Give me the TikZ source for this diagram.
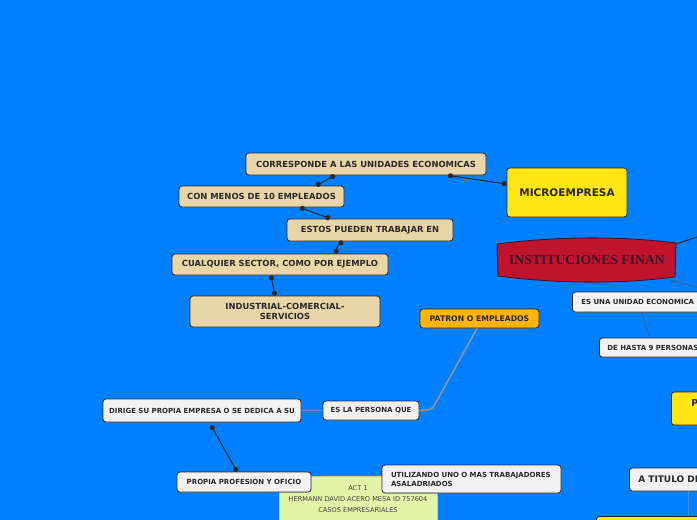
\documentclass[tikz,border=0pt]{standalone}
\usepackage{fontspec}
\setmainfont{DejaVu Sans}
\newfontfamily\titlefont{Liberation Serif}
\usetikzlibrary{arrows.meta,positioning,shadows}
\definecolor{bgblue}{RGB}{0,128,255}
\definecolor{tanfill}{RGB}{232,213,168}
\definecolor{yelfill}{RGB}{255,230,20}
\definecolor{orgfill}{RGB}{255,180,10}
\definecolor{crimson}{RGB}{192,20,46}
\definecolor{palefill}{RGB}{242,242,242}
\definecolor{limefill}{RGB}{224,245,168}
\definecolor{ink}{RGB}{45,40,40}
\definecolor{soft}{RGB}{150,150,150}
\definecolor{faint}{RGB}{80,140,215}
\definecolor{wine}{RGB}{60,20,35}
\definecolor{actink}{RGB}{65,65,65}

\tikzset{
  mapbox/.style={draw=ink, rounded corners=3pt, line width=0.8pt, text=ink, align=center, inner sep=0pt,
    drop shadow={shadow xshift=0.6pt, shadow yshift=-0.8pt, opacity=0.35},
    font=\bfseries\fontsize{7}{9}\selectfont},
  tanbox/.style={mapbox, fill=tanfill, font=\bfseries\fontsize{8.4}{10.5}\selectfont},
  palebox/.style={mapbox, fill=palefill},
  yelbox/.style={mapbox, fill=yelfill},
  link/.style={draw=ink, line width=1pt, {Circle[length=5pt]}-{Circle[length=5pt]}},
}

\begin{document}
\begin{tikzpicture}[x=1pt, y=-1pt]
  \useasboundingbox (0,0) rectangle (697,520);
  \clip (0,0) rectangle (697,520);
  \fill[bgblue] (0,0) rectangle (697,520);

  % microempresa branch
  \node[tanbox, minimum width=240, minimum height=22] (corr) at (366,164) {CORRESPONDE A LAS UNIDADES ECONOMICAS};
  \node[tanbox, minimum width=165, minimum height=21] (menos) at (261.5,196.5) {CON MENOS DE 10 EMPLEADOS};
  \node[tanbox, minimum width=166, minimum height=22] (estos) at (370,230) {ESTOS PUEDEN TRABAJAR EN};
  \node[tanbox, minimum width=216, minimum height=21] (cualq) at (280,264.5) {CUALQUIER SECTOR, COMO POR EJEMPLO};
  \node[tanbox, minimum width=190, minimum height=31] (indus) at (285,311.5) {INDUSTRIAL-COMERCIAL-\\SERVICIOS};
  \node[yelbox, minimum width=120, minimum height=49, font=\bfseries\fontsize{10.5}{12}\selectfont] (micro) at (567,192.5) {MICROEMPRESA};

  % instituciones
  \fill[crimson, draw=wine, line width=0.8pt]
    (497,244) .. controls (560,236) and (620,236) .. (676,243)
    -- (675,277) .. controls (620,284) and (560,284) .. (498,276) -- cycle;
  \node[text=wine, font=\titlefont\bfseries\fontsize{13.7}{15}\selectfont] (instit) at (587,260) {INSTITUCIONES FINAN};
  \coordinate (offa) at (700,236);
  \coordinate (offb) at (700,288);

  \node[palebox, anchor=west, text width=130, inner xsep=9pt, minimum height=20, align=left] (esuna) at (572,302) {ES UNA UNIDAD ECONOMICA};
  \node[palebox, anchor=west, text width=120, inner xsep=8pt, minimum height=19, align=left] (hasta) at (599,347.5) {DE HASTA 9 PERSONAS};

  % patron
  \node[mapbox, fill=orgfill, minimum width=119, minimum height=19, font=\bfseries\fontsize{7.7}{9}\selectfont] (patron) at (479.5,318.5) {PATRON O EMPLEADOS};
  \node[palebox, minimum width=96, minimum height=19] (persona) at (371,410.5) {ES LA PERSONA QUE};
  \node[palebox, minimum width=198, minimum height=23] (dirige) at (202,410.5) {DIRIGE SU PROPIA EMPRESA O SE DEDICA A SU};
  \node[fill=limefill, draw=limefill!85!black, line width=0.6pt, minimum width=158, anchor=north, inner xsep=0pt, inner ysep=9.5pt,
    text=actink, font=\fontsize{6.6}{11}\selectfont, align=center] (act) at (358,476)
    {ACT 1\\HERMANN DAVID ACERO MESA ID 757604\\CASOS EMPRESARIALES\\[14pt]\mbox{}};
  \node[palebox, minimum width=134, minimum height=20] (propia) at (244,482) {PROPIA PROFESION Y OFICIO};
  \node[palebox, minimum width=179, minimum height=28, text width=161, align=left] (utiliz) at (471.5,479) {UTILIZANDO UNO O MAS TRABAJADORES\\ASALADRIADOS};

  % right edge
  \node[yelbox, anchor=west, text width=40, inner xsep=20pt, minimum height=33, align=left, font=\bfseries\fontsize{9.5}{11}\selectfont] (pbox) at (671,408.5) {P\\\mbox{}};
  \node[palebox, anchor=west, text width=90, inner xsep=9pt, minimum height=23, align=left, font=\bfseries\fontsize{9}{10}\selectfont] (titulo) at (629,479.5) {A TITULO DE};
  \node[yelbox, anchor=north west, minimum width=120, minimum height=30] (lowyel) at (596,516) {};

  % connectors
  \draw[link] ([xshift=-31pt]corr.south) -- ([xshift=54.5pt]menos.north);
  \draw[link] ([xshift=82pt]corr.south) -- ([yshift=8.5pt]micro.west);
  \draw[link] ([xshift=38.5pt]menos.south) -- ([xshift=-40pt]estos.north);
  \draw[link] ([xshift=-27pt]estos.south) to[bend right=25] ([xshift=56pt]cualq.north);
  \draw[link] ([xshift=-9pt]cualq.south) -- ([xshift=-10pt]indus.north);
  \draw[draw=ink, line width=1pt] (676,244) -- (offa);
  \draw[draw=ink!80, line width=0.6pt, {Circle[length=2pt]}-] (671,281) -- (offb);
  \draw[draw=ink!80, line width=0.6pt] ([xshift=70pt]esuna.south west) -- ([xshift=51pt]hasta.north west);
  \draw[soft, line width=1.5pt, rounded corners=4pt] ([xshift=-2.5pt]patron.south) -- (432,409.5) -- (persona.east);
  \draw[faint, line width=1pt] (dirige.east) -- (persona.west);
  \draw[link] ([xshift=9pt, yshift=-3pt]dirige.south) -- ([xshift=-7pt]propia.north);
  \draw[faint, line width=1pt] ([xshift=59pt]titulo.south west) -- ([xshift=92pt]lowyel.north west);
\end{tikzpicture}
\end{document}
